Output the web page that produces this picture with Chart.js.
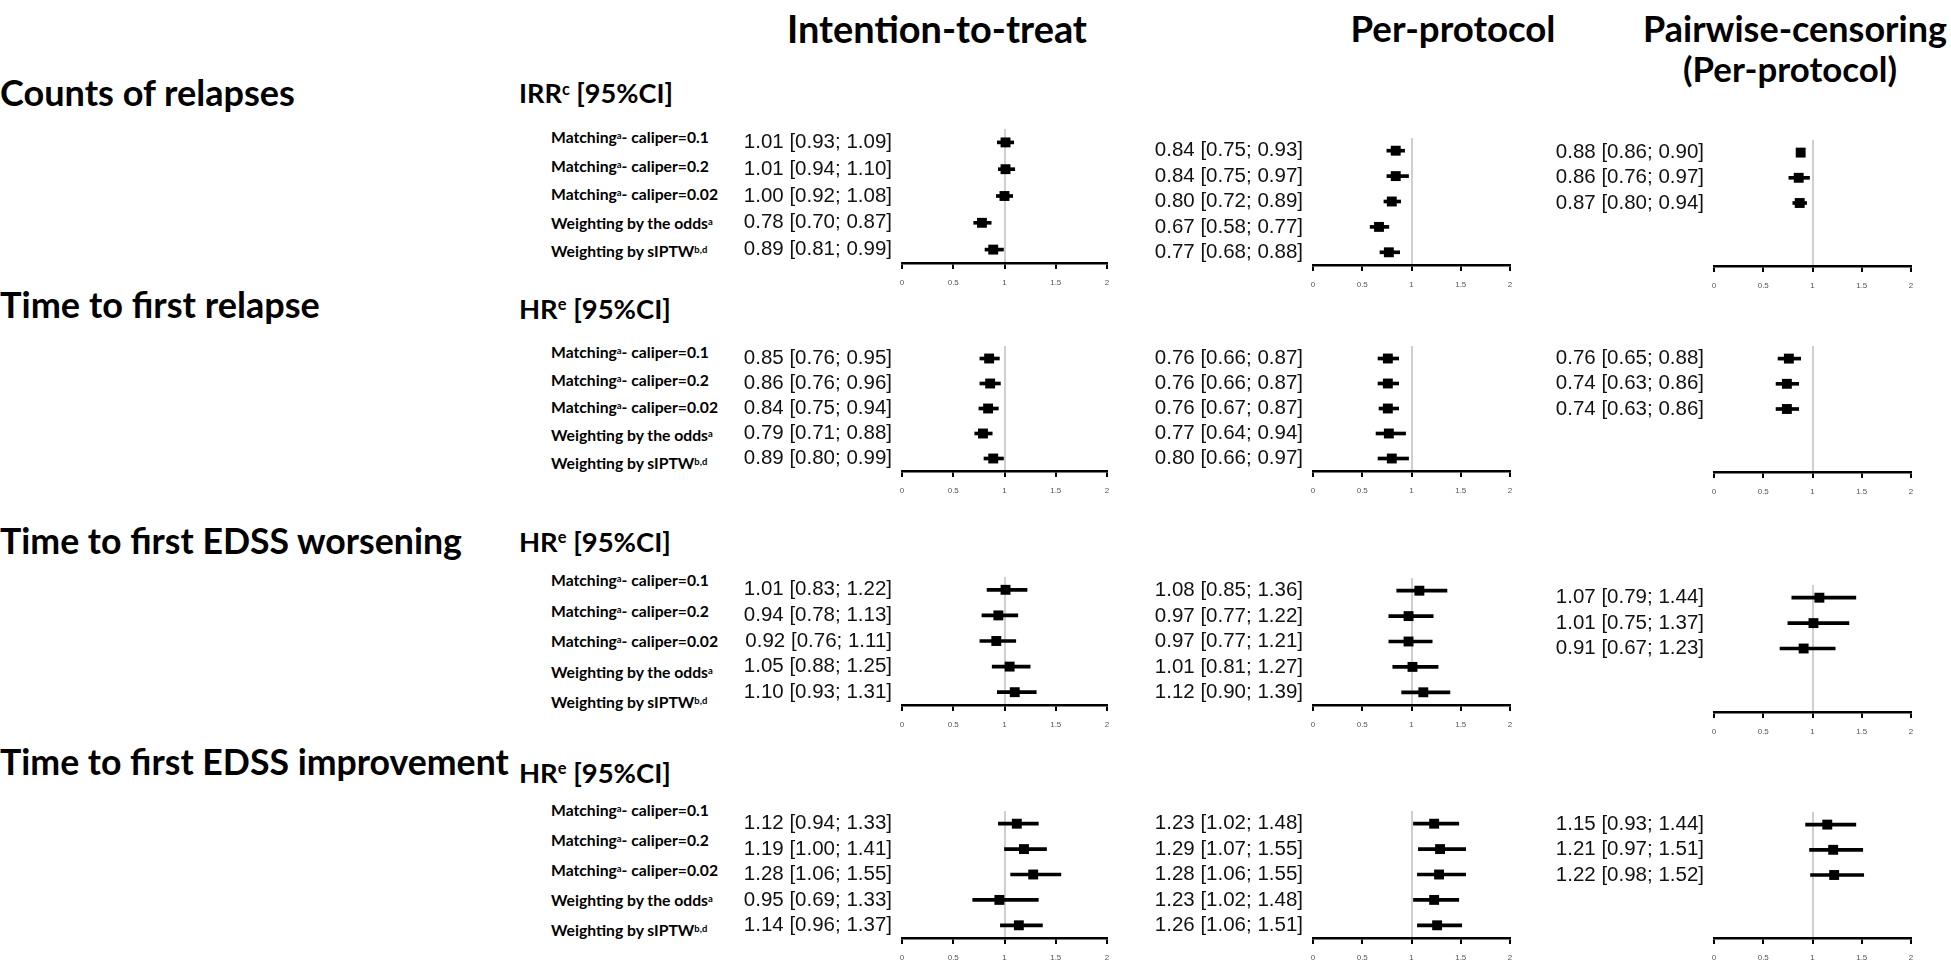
<!DOCTYPE html>
<html>
<head>
<meta charset="utf-8">
<script src="https://cdn.jsdelivr.net/npm/chart.js@4.4.1/dist/chart.umd.min.js"></script>
<style>
  html, body { margin: 0; padding: 0; background: #fff; }
  body { width: 1951px; height: 960px; position: relative; overflow: hidden; font-family: Lato, "Open Sans", sans-serif; }
  .txt { position: absolute; white-space: nowrap; font-weight: 700; color: #000; line-height: 1.2; transform: translateY(-50%); transform-origin: 0 50%; }
  .mid { transform: translate(-50%, -50%); }
  sup { font-size: 0.6em; line-height: 0; vertical-align: 0.5em; }
  canvas { position: absolute; }
</style>
</head>
<body>
<script>
  // Labels
  const analyses = ['Intention-to-treat', 'Per-protocol', 'Pairwise-censoring', '(Per-protocol)'];
  const outcomes = ['Counts of relapses', 'Time to first relapse', 'Time to first EDSS worsening', 'Time to first EDSS improvement'];
  const measures = ['IRR<sup>c</sup> [95%CI]', 'HR<sup>e</sup> [95%CI]', 'HR<sup>e</sup> [95%CI]', 'HR<sup>e</sup> [95%CI]'];
  const methods = [
    'Matching<sup>a</sup>- caliper=0.1',
    'Matching<sup>a</sup>- caliper=0.2',
    'Matching<sup>a</sup>- caliper=0.02',
    'Weighting by the odds<sup>a</sup>',
    'Weighting by sIPTW<sup>b,d</sup>'
  ];
  const xTicks = [0, 0.5, 1, 1.5, 2];

  // [estimate, lower, upper]
  const countsITT = [[1.01, 0.93, 1.09], [1.01, 0.94, 1.10], [1.00, 0.92, 1.08], [0.78, 0.70, 0.87], [0.89, 0.81, 0.99]];
  const countsPP  = [[0.84, 0.75, 0.93], [0.84, 0.75, 0.97], [0.80, 0.72, 0.89], [0.67, 0.58, 0.77], [0.77, 0.68, 0.88]];
  const countsPW  = [[0.88, 0.86, 0.90], [0.86, 0.76, 0.97], [0.87, 0.80, 0.94]];

  const relapseITT = [[0.85, 0.76, 0.95], [0.86, 0.76, 0.96], [0.84, 0.75, 0.94], [0.79, 0.71, 0.88], [0.89, 0.80, 0.99]];
  const relapsePP  = [[0.76, 0.66, 0.87], [0.76, 0.66, 0.87], [0.76, 0.67, 0.87], [0.77, 0.64, 0.94], [0.80, 0.66, 0.97]];
  const relapsePW  = [[0.76, 0.65, 0.88], [0.74, 0.63, 0.86], [0.74, 0.63, 0.86]];

  const worseITT = [[1.01, 0.83, 1.22], [0.94, 0.78, 1.13], [0.92, 0.76, 1.11], [1.05, 0.88, 1.25], [1.10, 0.93, 1.31]];
  const worsePP  = [[1.08, 0.85, 1.36], [0.97, 0.77, 1.22], [0.97, 0.77, 1.21], [1.01, 0.81, 1.27], [1.12, 0.90, 1.39]];
  const worsePW  = [[1.07, 0.79, 1.44], [1.01, 0.75, 1.37], [0.91, 0.67, 1.23]];

  const improveITT = [[1.12, 0.94, 1.33], [1.19, 1.00, 1.41], [1.28, 1.06, 1.55], [0.95, 0.69, 1.33], [1.14, 0.96, 1.37]];
  const improvePP  = [[1.23, 1.02, 1.48], [1.29, 1.07, 1.55], [1.28, 1.06, 1.55], [1.23, 1.02, 1.48], [1.26, 1.06, 1.51]];
  const improvePW  = [[1.15, 0.93, 1.44], [1.21, 0.97, 1.51], [1.22, 0.98, 1.52]];

  const results = [
    [countsITT, countsPP, countsPW],
    [relapseITT, relapsePP, relapsePW],
    [worseITT, worsePP, worsePW],
    [improveITT, improvePP, improvePW]
  ];

  // page layout (pixels)
  const colX = [[902, 1107], [1313, 1510], [1714, 1911]];
  const rowBox = [
    [[122, 263], [131, 265], [133, 266]],
    [[339, 471], [339, 471], [339, 472]],
    [[570, 705], [571, 705], [578, 712]],
    [[804, 938], [804, 938], [805, 938]]
  ];
  const outcomeY = [93, 305, 541, 762];
  const measureY = [93, 309, 542, 773];
  const methodY = [[137, 28.6], [352, 27.7], [580, 30.5], [810, 30]];

  function addText(html, x, y, cls, fitTo) {
    const el = document.createElement('div');
    el.className = 'txt ' + (cls || '');
    el.innerHTML = html;
    el.style.left = x + 'px';
    el.style.top = y + 'px';
    document.body.appendChild(el);
    if (fitTo) {
      const fs = parseFloat(getComputedStyle(el).fontSize);
      el.style.fontSize = (fs * fitTo / el.getBoundingClientRect().width) + 'px';
    }
    return el;
  }

  function ciLabel(r) {
    return r ? r[0].toFixed(2) + ' [' + r[1].toFixed(2) + '; ' + r[2].toFixed(2) + ']' : '';
  }

  function drawPanel(rows, xr, yr) {
    const yW = 200, xH = 30, padR = 12;
    const cv = document.createElement('canvas');
    cv.width = yW + (xr[1] - xr[0]) + padR;
    cv.height = (yr[1] - yr[0]) + xH;
    cv.style.left = (xr[0] - yW) + 'px';
    cv.style.top = yr[0] + 'px';
    document.body.appendChild(cv);

    const labels = [], est = [], ci = [];
    for (let i = 0; i < methods.length; i++) {
      const r = rows[i];
      labels.push(ciLabel(r));
      est.push(r ? r[0] : null);
      ci.push(r ? [r[1], r[2]] : null);
    }

    new Chart(cv, {
      type: 'bar',
      data: {
        labels: labels,
        datasets: [
          {
            type: 'line',
            indexAxis: 'y',
            data: est,
            showLine: false,
            pointStyle: 'rect',
            pointRadius: 7,
            pointBorderWidth: 0,
            pointBackgroundColor: '#000',
            borderColor: '#000'
          },
          {
            type: 'bar',
            indexAxis: 'y',
            data: ci,
            backgroundColor: '#000',
            barThickness: 3,
            borderWidth: 0
          }
        ]
      },
      options: {
        indexAxis: 'y',
        responsive: false,
        animation: false,
        events: [],
        layout: { padding: { left: 0, right: padR, top: 0, bottom: 0 } },
        plugins: { legend: { display: false }, tooltip: { enabled: false } },
        scales: {
          x: {
            type: 'linear',
            min: 0,
            max: 2,
            afterFit: s => { s.height = xH; s.paddingLeft = 0; s.paddingRight = 0; },
            afterBuildTicks: s => { s.ticks = xTicks.map(v => ({ value: v })); },
            border: { display: true, color: '#000', width: 2.5 },
            grid: {
              color: ctx => (ctx.tick && ctx.tick.value === 1) ? '#cfcfcf' : 'rgba(0,0,0,0)',
              lineWidth: 2,
              tickColor: '#000',
              tickLength: 6,
              tickWidth: 2
            },
            ticks: {
              callback: v => String(v),
              font: { family: 'Liberation Sans', size: 8 },
              color: '#555',
              padding: 9,
              maxRotation: 0
            }
          },
          y: {
            type: 'category',
            offset: true,
            afterFit: s => { s.width = yW; s.paddingTop = 0; s.paddingBottom = 0; },
            border: { display: false },
            grid: { display: false, drawTicks: false },
            ticks: {
              autoSkip: false,
              font: { family: 'Liberation Sans', size: 20.5 },
              color: '#111',
              padding: 10
            }
          }
        }
      }
    });
  }

  // column headings
  addText(analyses[0], 937, 29, 'mid', 300);
  addText(analyses[1], 1453, 29, 'mid', 205);
  addText(analyses[2], 1795, 29, 'mid', 304);
  addText(analyses[3], 1790, 69, 'mid', 214);

  // method labels: Calibri-like, taller glyphs squeezed to the reference width
  const methodSize = 16;
  const probe = addText(methods[2], 551, -100, '');
  probe.style.fontSize = methodSize + 'px';
  const methodScale = 167 / probe.getBoundingClientRect().width;
  probe.remove();

  const outcomeW = [295, 320, 462, 509];
  for (let r = 0; r < outcomes.length; r++) {
    addText(outcomes[r], 0, outcomeY[r], '', outcomeW[r]);
    addText(measures[r], 519, measureY[r], '', r === 0 ? 154 : 152);
    for (let i = 0; i < methods.length; i++) {
      const el = addText(methods[i], 551, methodY[r][0] + i * methodY[r][1], '');
      el.style.fontSize = methodSize + 'px';
      el.style.transform = 'translateY(-50%) scaleX(' + methodScale.toFixed(3) + ')';
    }
    for (let c = 0; c < 3; c++) {
      drawPanel(results[r][c], colX[c], rowBox[r][c]);
    }
  }
</script>
</body>
</html>
